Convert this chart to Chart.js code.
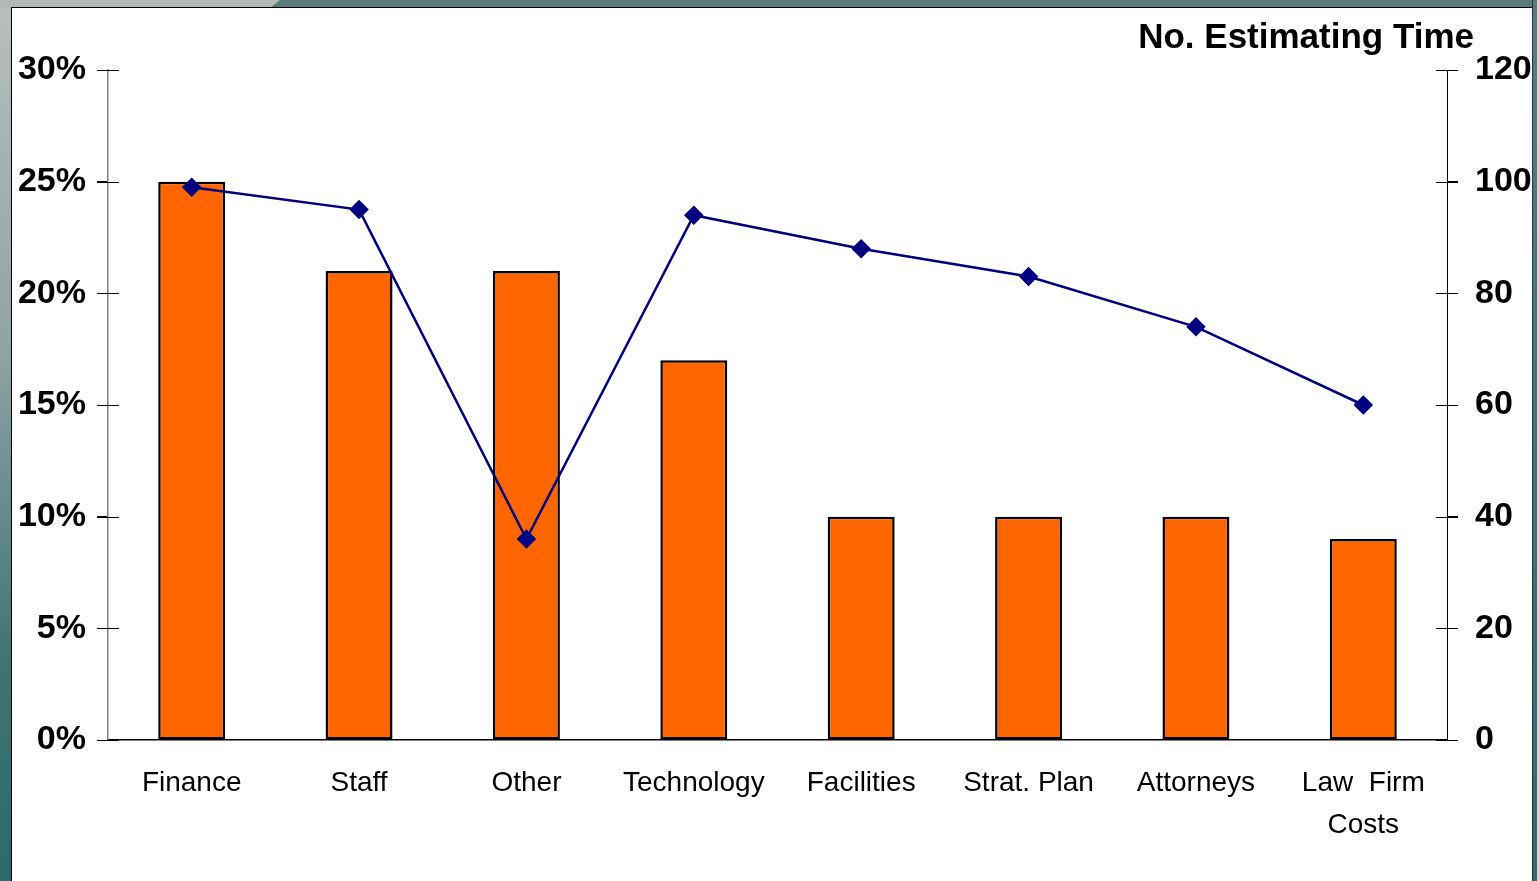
<!DOCTYPE html>
<html>
<head>
<meta charset="utf-8">
<script src="https://cdn.jsdelivr.net/npm/chart.js@4/dist/chart.umd.min.js"></script>
<style>
  html, body { margin: 0; padding: 0; }
  body {
    width: 1537px; height: 881px; overflow: hidden; position: relative;
    background: linear-gradient(to bottom, #b9bebe 0%, #8fa3a3 40%, #3f7474 75%, #2d6a6a 100%);
  }
  #topbar {
    position: absolute; left: 0; top: 0; width: 1537px; height: 8px;
    background: #5a7b7b;
  }
  #topgray {
    position: absolute; left: 0; top: 0; width: 280px; height: 8px;
    background: #b3b8b8;
    clip-path: polygon(0 0, 280px 0, 270px 8px, 0 8px);
  }
  #rightstrip {
    position: absolute; left: 1532px; top: 0; width: 5px; height: 881px;
    background: linear-gradient(to bottom, #5a7b7b, #2f6b6b);
    border-left: 1px solid #1e3a3a;
  }
  #panel {
    position: absolute; left: 11px; top: 7px; width: 1520px; height: 874px;
    background: #ffffff; border-left: 1px solid #000; border-top: 1px solid #000;
  }
  #wrap { position: absolute; left: 0; top: 0; width: 1520px; height: 873px; }
</style>
</head>
<body>
<div id="topbar"></div>
<div id="topgray"></div>
<div id="rightstrip"></div>
<div id="panel"><div id="wrap"><canvas id="c"></canvas></div></div>
<script>
const categories = ["Finance", "Staff", "Other", "Technology", "Facilities", "Strat. Plan", "Attorneys", ["Law  Firm", "Costs"]];
const percentValues = [25, 21, 21, 17, 10, 10, 10, 9];
const estimatingTime = [99, 95, 36, 94, 88, 83, 74, 60];
const rightAxisTitle = "No. Estimating Time";

const FONT = "'Liberation Sans', Arial, Helvetica, sans-serif";

const crossTicks = {
  id: 'crossTicks',
  afterDraw(chart) {
    const ctx = chart.ctx;
    ctx.save();
    ctx.strokeStyle = '#000';
    ctx.lineWidth = 1;
    ['y', 'y1'].forEach(id => {
      const s = chart.scales[id];
      const ax = id === 'y' ? chart.chartArea.left : chart.chartArea.right;
      s.ticks.forEach(t => {
        const py = Math.round(s.getPixelForValue(t.value)) + 0.5;
        ctx.beginPath();
        ctx.moveTo(ax - 11, py);
        ctx.lineTo(ax + 11, py);
        ctx.stroke();
      });
    });
    ctx.restore();
  }
};

const titlePlugin = {
  id: 'rightTitle',
  afterDraw(chart) {
    const ctx = chart.ctx;
    ctx.save();
    ctx.font = "bold 35px " + FONT;
    ctx.fillStyle = '#000';
    ctx.textAlign = 'right';
    ctx.textBaseline = 'middle';
    ctx.fillText(rightAxisTitle, 1462, 30);
    ctx.restore();
  }
};

new Chart(document.getElementById('c'), {
  data: {
    labels: categories,
    datasets: [
      {
        type: 'line',
        data: estimatingTime,
        yAxisID: 'y1',
        borderColor: '#000080',
        backgroundColor: '#000080',
        borderWidth: 2.5,
        pointStyle: 'rectRot',
        pointRadius: 8,
        pointHoverRadius: 8,
        pointBackgroundColor: '#000080',
        pointBorderColor: '#000080',
        tension: 0,
        order: 0
      },
      {
        type: 'bar',
        data: percentValues,
        yAxisID: 'y',
        backgroundColor: '#ff6600',
        borderColor: '#000',
        borderWidth: 2.5,
        borderSkipped: false,
        barPercentage: 0.4,
        categoryPercentage: 1,
        order: 1
      }
    ]
  },
  options: {
    responsive: true,
    maintainAspectRatio: false,
    animation: false,
    layout: { padding: { top: 62, left: 0, right: 0, bottom: 0 } },
    plugins: { legend: { display: false }, tooltip: { enabled: false }, title: { display: false } },
    scales: {
      x: {
        grid: { display: false, drawTicks: false },
        border: { display: true, color: '#000', width: 1.5 },
        ticks: {
          padding: 22,
          color: '#000',
          maxRotation: 0,
          autoSkip: false,
          font: { family: FONT, size: 28, lineHeight: 1.5 }
        },
        afterFit(s) { s.height = 141; }
      },
      y: {
        position: 'left',
        min: 0, max: 30,
        grid: { display: true, drawOnChartArea: false, drawTicks: true, tickLength: 11, color: '#000' },
        border: { display: true, color: '#808080', width: 1.5 },
        ticks: {
          stepSize: 5,
          padding: 11,
          color: '#000',
          font: { family: FONT, size: 34, weight: 'bold' },
          callback: v => v + '%'
        },
        afterFit(s) { s.width = 96; }
      },
      y1: {
        position: 'right',
        min: 0, max: 120,
        grid: { display: true, drawOnChartArea: false, drawTicks: true, tickLength: 11, color: '#000' },
        border: { display: true, color: '#000', width: 1 },
        ticks: {
          stepSize: 20,
          padding: 17,
          color: '#000',
          font: { family: FONT, size: 34, weight: 'bold' }
        },
        afterFit(s) { s.width = 85; }
      }
    }
  },
  plugins: [crossTicks, titlePlugin]
});
</script>
</body>
</html>
